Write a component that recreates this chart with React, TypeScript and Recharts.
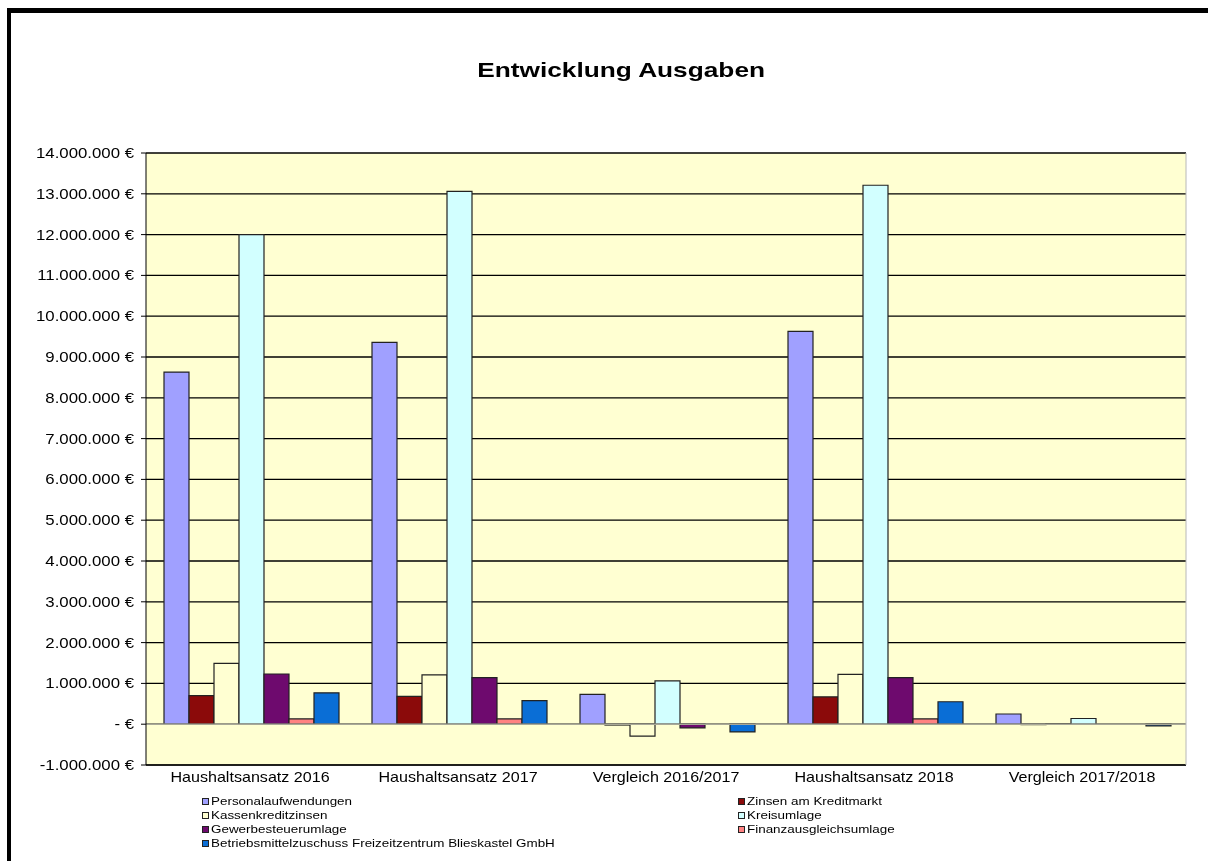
import { BarChart, Bar, XAxis, YAxis, CartesianGrid, ReferenceLine, Legend } from 'recharts';

const categories = [
  'Haushaltsansatz 2016',
  'Haushaltsansatz 2017',
  'Vergleich 2016/2017',
  'Haushaltsansatz 2018',
  'Vergleich 2017/2018',
];

const personalaufwendungen = [8630000, 9360000, 730000, 9630000, 250000];
const zinsenKreditmarkt = [700000, 680000, -20000, 670000, -10000];
const kassenkreditzinsen = [1490000, 1210000, -290000, 1220000, 10000];
const kreisumlage = [12000000, 13060000, 1060000, 13210000, 140000];
const gewerbesteuerumlage = [1230000, 1140000, -90000, 1140000, 0];
const finanzausgleichsumlage = [130000, 130000, 0, 130000, 0];
const betriebsmittelzuschuss = [770000, 580000, -190000, 550000, -40000];

const yTicks = [-1000000, 0, 1000000, 2000000, 3000000, 4000000, 5000000, 6000000, 7000000,
  8000000, 9000000, 10000000, 11000000, 12000000, 13000000, 14000000];

const series = [
  { key: 'personal', name: 'Personalaufwendungen', color: '#A0A0FF', values: personalaufwendungen },
  { key: 'zinsen', name: 'Zinsen am Kreditmarkt', color: '#8B0A0A', values: zinsenKreditmarkt },
  { key: 'kassen', name: 'Kassenkreditzinsen', color: '#FFFFD2', values: kassenkreditzinsen },
  { key: 'kreis', name: 'Kreisumlage', color: '#D2FFFF', values: kreisumlage },
  { key: 'gewerbe', name: 'Gewerbesteuerumlage', color: '#6E0A6E', values: gewerbesteuerumlage },
  { key: 'finanz', name: 'Finanzausgleichsumlage', color: '#FF8282', values: finanzausgleichsumlage },
  { key: 'betrieb', name: 'Betriebsmittelzuschuss Freizeitzentrum Blieskastel GmbH', color: '#0A6ED6', values: betriebsmittelzuschuss },
];

const data = categories.map((cat, i) => {
  const row: any = { cat };
  series.forEach((s) => { row[s.key] = s.values[i]; });
  return row;
});

const FONT = '"Liberation Sans", Arial, sans-serif';

const formatEuro = (v: number) => {
  if (v === 0) return '- €';
  const sign = v < 0 ? '-' : '';
  const s = Math.abs(v).toString().replace(/\B(?=(\d{3})+(?!\d))/g, '.');
  return `${sign}${s} €`;
};

const YTick = ({ x, y, payload }: any) => (
  <text
    transform={`translate(${x - 5},${y}) scale(1.2,1)`}
    textAnchor="end"
    dy="0.35em"
    fontSize={14}
    fontFamily={FONT}
    fill="#000"
  >
    {formatEuro(payload.value)}
  </text>
);

const XTick = ({ x, y, payload }: any) => (
  <text
    transform={`translate(${x},${y + 17}) scale(1.15,1)`}
    textAnchor="middle"
    fontSize={14}
    fontFamily={FONT}
    fill="#000"
  >
    {payload.value}
  </text>
);

const LegendBox = () => {
  const left = series.filter((_, i) => i % 2 === 0);
  const right = series.filter((_, i) => i % 2 === 1);
  const item = (s: any) => (
    <div key={s.key} style={{ height: 14, display: 'flex', alignItems: 'center', whiteSpace: 'nowrap' }}>
      <span style={{ width: 5, height: 5, background: s.color, border: '1px solid #222', marginRight: 2, display: 'inline-block' }} />
      <span style={{ display: 'inline-block', transform: 'scaleX(1.22)', transformOrigin: 'left center', fontSize: 11 }}>{s.name}</span>
    </div>
  );
  return (
    <div style={{ position: 'relative', height: 60, fontFamily: FONT, color: '#000' }}>
      <div style={{ position: 'absolute', left: 186, top: 5 }}>{left.map(item)}</div>
      <div style={{ position: 'absolute', left: 722, top: 5 }}>{right.map(item)}</div>
    </div>
  );
};

export default function App() {
  return (
    <div style={{ position: 'relative', width: 1200, height: 845 }}>
      <div
        style={{
          position: 'fixed', left: 7, top: 8, width: 1201, height: 853,
          borderTop: '5px solid #000', borderLeft: '4px solid #000', boxSizing: 'border-box', pointerEvents: 'none',
        }}
      />
      <div
        style={{
          position: 'absolute', left: 0, top: 50, width: 1226, textAlign: 'center',
          fontFamily: FONT, fontWeight: 'bold', fontSize: 21, color: '#000',
        }}
      >
        <span style={{ display: 'inline-block', transform: 'scaleX(1.25)' }}>Entwicklung Ausgaben</span>
      </div>
      <BarChart
        width={1200}
        height={845}
        data={data}
        margin={{ top: 145, right: 21, left: 8, bottom: 4 }}
        barCategoryGap={18}
        barGap={0}
      >
        <CartesianGrid horizontal vertical={false} stroke="#000" strokeWidth={1.3} fill="#FFFFD2" fillOpacity={1} />
        <XAxis
          dataKey="cat"
          height={24}
          tickLine={false}
          tickSize={0}
          tickMargin={0}
          axisLine={{ stroke: '#000' }}
          tick={<XTick />}
          interval={0}
        />
        <YAxis
          width={130}
          domain={[-1000000, 14000000]}
          ticks={yTicks}
          interval={0}
          tickSize={5}
          tickLine={{ stroke: '#000' }}
          axisLine={{ stroke: '#000' }}
          tick={<YTick />}
        />
        <YAxis yAxisId="frame" orientation="right" width={1} tick={false} tickLine={false} axisLine={{ stroke: '#b8b8b8' }} />
        {series.map((s) => (
          <Bar
            key={s.key}
            dataKey={s.key}
            name={s.name}
            fill={s.color}
            stroke="#222"
            strokeWidth={1.2}
            isAnimationActive={false}
          />
        ))}
        <ReferenceLine y={0} stroke="#a8a898" strokeWidth={1.5} />
        <Legend verticalAlign="bottom" height={60} content={<LegendBox />} />
      </BarChart>
    </div>
  );
}
